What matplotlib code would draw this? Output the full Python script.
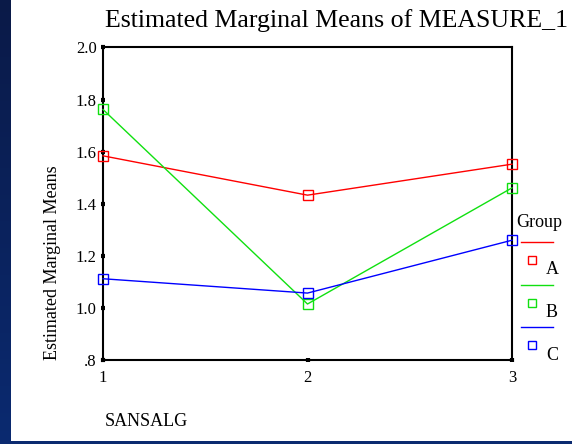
import matplotlib
matplotlib.use("Agg")
import matplotlib.pyplot as plt
from matplotlib.lines import Line2D
import numpy as np

# data
sansalg = [1, 2, 3]
group_names = ["A", "B", "C"]
mean_a = [1.584, 1.433, 1.552]
mean_b = [1.762, 1.015, 1.461]
mean_c = [1.112, 1.057, 1.260]
colors = ["#ff0000", "#10e010", "#0000ff"]
y_ticks = [0.8, 1.0, 1.2, 1.4, 1.6, 1.8, 2.0]
y_tick_labels = [".8", "1.0", "1.2", "1.4", "1.6", "1.8", "2.0"]

W, H = 572, 444
plt.rcParams["font.family"] = ["Liberation Serif", "DejaVu Serif"]

fig = plt.figure(figsize=(W / 100, H / 100), dpi=100)
fig.patch.set_facecolor("white")

# slide border: dark blue strip on the left and bottom
bg = fig.add_axes([0, 0, 11 / W, 1])
grad = np.linspace(0, 1, 100).reshape(-1, 1)
bg.imshow(grad, aspect="auto", cmap=matplotlib.colors.LinearSegmentedColormap.from_list(
    "slide", ["#0a1a48", "#0b2a70"]), extent=[0, 1, 0, 1], origin="upper")
bg.axis("off")
bot = fig.add_axes([0, 0, 1, 3 / H])
bot.set_facecolor("#0b2a70")
bot.set_xticks([]); bot.set_yticks([])
for s in bot.spines.values():
    s.set_visible(False)

ax = fig.add_axes([103 / W, (H - 360) / H, (512 - 103) / W, (360 - 47.5) / H])

for vals, c, name in zip([mean_a, mean_b, mean_c], colors, group_names):
    ax.plot(sansalg, vals, color=c, lw=1.0, marker="s", markersize=6.5,
            markerfacecolor="none", markeredgecolor=c, markeredgewidth=1.0,
            label=name, clip_on=False, zorder=3)

ax.set_xlim(1, 3)
ax.set_ylim(0.8, 2.0)
ax.set_xticks(sansalg)
ax.set_xticklabels([str(v) for v in sansalg], fontsize=12)
ax.set_yticks(y_ticks)
ax.set_yticklabels(y_tick_labels, fontsize=12)
ax.tick_params(direction="inout", length=3, width=3, pad=3)
ax.tick_params(axis="x", pad=6)
for s in ax.spines.values():
    s.set_linewidth(1.5)

fig.text(53 / W, (H - 360) / H, "Estimated Marginal Means", fontsize=13,
         rotation=90, ha="center", va="bottom")
fig.text(105 / W, 1 - 421 / H, "SANSALG", fontsize=13, ha="left", va="center")
fig.text(105 / W, 1 - 21 / H, "Estimated Marginal Means of MEASURE_1",
         fontsize=18.6, ha="left", va="center")

# SPSS style legend on the right
fig.text(539 / W, 1 - 222 / H, "Group", fontsize=13, ha="center", va="center")
for i, (c, name) in enumerate(zip(colors, group_names)):
    y0 = 242 + i * 42.5
    fig.add_artist(Line2D([521 / W, 553 / W], [1 - y0 / H, 1 - y0 / H],
                          color=c, lw=1.0))
    fig.add_artist(Line2D([532 / W], [1 - (y0 + 18) / H], marker="s",
                          markersize=6, markerfacecolor="none",
                          markeredgecolor=c, markeredgewidth=1.0, lw=0))
    fig.text(552 / W, 1 - (y0 + 28) / H, name, fontsize=13,
             ha="center", va="center")

fig.savefig("out.png", dpi=100)
